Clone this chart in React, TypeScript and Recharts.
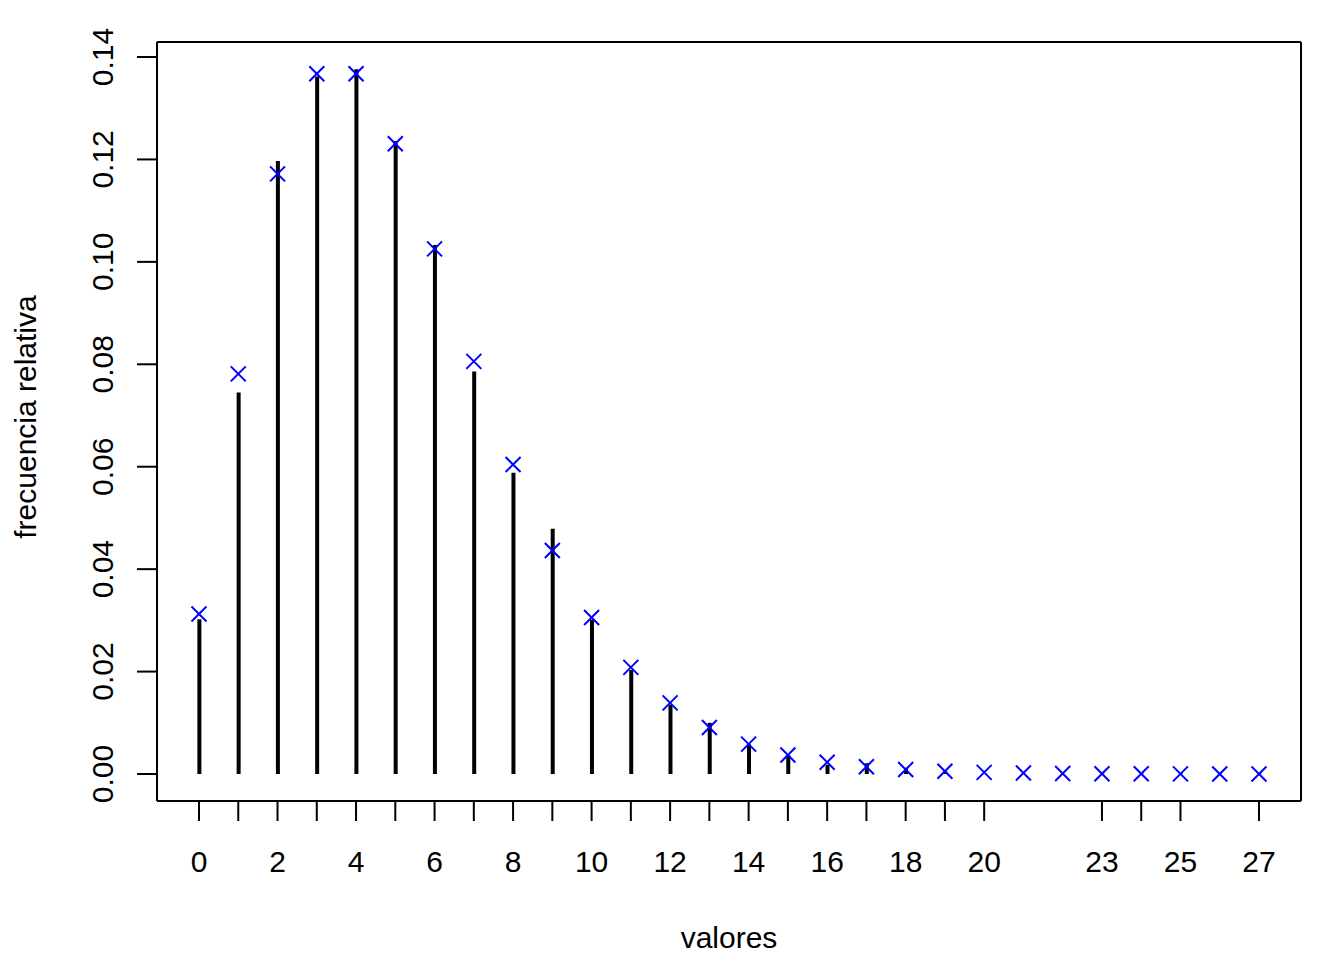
import React from "react";
import { ComposedChart, Bar, Scatter, XAxis, YAxis } from "recharts";

// valores (x)
const valores = [0, 1, 2, 3, 4, 5, 6, 7, 8, 9, 10, 11, 12, 13, 14, 15, 16, 17, 18, 19, 20, 21, 22, 23, 24, 25, 26, 27];
// frecuencia relativa observada (líneas negras)
const observada: (number | null)[] = [
  0.0302, 0.0745, 0.1197, 0.1362, 0.1376, 0.1236, 0.1033, 0.0786, 0.0588, 0.0479,
  0.0301, 0.0203, 0.0135, 0.0100, 0.0058, 0.0037, 0.0018, 0.0021, 0.0012, 0.0005,
  0.0001, null, null, 0.0001, 0.0001, 0.0001, null, 0.0001,
];
// probabilidad teórica (cruces azules)
const teorica = [
  0.03125, 0.078125, 0.117188, 0.136719, 0.136719, 0.123047, 0.102539, 0.080566, 0.060425, 0.04364,
  0.030548, 0.020828, 0.013885, 0.009079, 0.005836, 0.003696, 0.00231, 0.001427, 0.000872, 0.000528,
  0.000317, 0.000189, 0.000111, 0.0000654, 0.0000381, 0.0000221, 0.0000128, 0.0000073,
];
const xTicks = [0, 1, 2, 3, 4, 5, 6, 7, 8, 9, 10, 11, 12, 13, 14, 15, 16, 17, 18, 19, 20, 23, 24, 25, 27];
const xTickLabels = [0, 2, 4, 6, 8, 10, 12, 14, 16, 18, 20, 23, 25, 27];
const yTicks = [0, 0.02, 0.04, 0.06, 0.08, 0.1, 0.12, 0.14];

const data = valores.map((v, i) => ({ x: v, obs: observada[i], teo: teorica[i] }));

const FONT = "'Liberation Sans', Arial, Helvetica, sans-serif";
const xDomain = [-1.07, 28.07];
const yDomain = [-0.00527, 0.14293];

const XTick = (props: any) => {
  const { x, payload } = props;
  if (!xTickLabels.includes(payload.value)) return <g />;
  return (
    <text x={x} y={872} textAnchor="middle" fontFamily={FONT} fontSize={30} fill="#000">
      {String(payload.value)}
    </text>
  );
};

const YTick = (props: any) => {
  const { y, payload } = props;
  return (
    <text
      transform={`translate(113, ${y}) rotate(-90)`}
      textAnchor="middle"
      fontFamily={FONT}
      fontSize={30}
      fill="#000"
    >
      {payload.value.toFixed(2)}
    </text>
  );
};

const XMark = (props: any) => {
  const { cx, cy } = props;
  const s = 7.5;
  return (
    <g>
      <line x1={cx - s} y1={cy - s} x2={cx + s} y2={cy + s} stroke="#0000FF" strokeWidth={2} />
      <line x1={cx - s} y1={cy + s} x2={cx + s} y2={cy - s} stroke="#0000FF" strokeWidth={2} />
    </g>
  );
};

export default function App() {
  return (
    <div style={{ position: "absolute", left: 0, top: 0, width: 1344, height: 960, background: "#fff" }}>
      <ComposedChart
        width={1344}
        height={960}
        data={data}
        margin={{ top: 32, right: 33, bottom: 99, left: 97 }}
      >
        <XAxis
          dataKey="x"
          type="number"
          domain={xDomain}
          allowDataOverflow
          ticks={xTicks}
          interval={0}
          height={60}
          tickSize={20}
          tick={<XTick />}
          tickLine={{ stroke: "#000", strokeWidth: 2 }}
          axisLine={{ stroke: "#000", strokeWidth: 2 }}
          label={{
            content: () => (
              <text x={729} y={948} textAnchor="middle" fontFamily={FONT} fontSize={30} fill="#000">
                valores
              </text>
            ),
          }}
        />
        <XAxis
          xAxisId="top"
          orientation="top"
          type="number"
          domain={xDomain}
          allowDataOverflow
          height={10}
          tick={false}
          tickLine={false}
          axisLine={{ stroke: "#000", strokeWidth: 2 }}
        />
        <YAxis
          type="number"
          domain={yDomain}
          allowDataOverflow
          ticks={yTicks}
          interval={0}
          width={60}
          tickSize={20}
          tick={<YTick />}
          tickLine={{ stroke: "#000", strokeWidth: 2 }}
          axisLine={{ stroke: "#000", strokeWidth: 2 }}
          label={{
            content: () => (
              <text
                transform="translate(36, 417) rotate(-90)"
                textAnchor="middle"
                fontFamily={FONT}
                fontSize={30}
                fill="#000"
              >
                frecuencia relativa
              </text>
            ),
          }}
        />
        <YAxis
          yAxisId="right"
          orientation="right"
          type="number"
          domain={yDomain}
          allowDataOverflow
          width={10}
          tick={false}
          tickLine={false}
          axisLine={{ stroke: "#000", strokeWidth: 2 }}
        />
        <Bar dataKey="obs" fill="#000" barSize={4} isAnimationActive={false} />
        <Scatter dataKey="teo" shape={<XMark />} isAnimationActive={false} />
      </ComposedChart>
    </div>
  );
}
